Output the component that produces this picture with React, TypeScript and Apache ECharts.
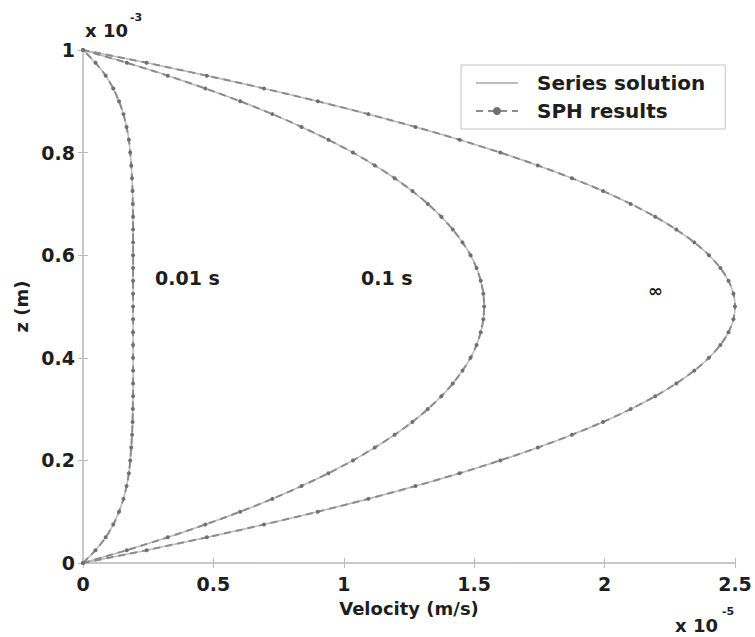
import React, { useEffect, useRef } from "react";
import * as echarts from "echarts";

// z positions (units of 1e-3 m)
const zPositions = [
  0, 0.025, 0.05, 0.075, 0.1, 0.125, 0.15, 0.175, 0.2, 0.225, 0.25, 0.275, 0.3, 0.325, 0.35, 0.375, 0.4,
  0.425, 0.45, 0.475, 0.5, 0.525, 0.55, 0.575, 0.6, 0.625, 0.65, 0.675, 0.7, 0.725, 0.75, 0.775, 0.8,
  0.825, 0.85, 0.875, 0.9, 0.925, 0.95, 0.975, 1,
];

// velocity (units of 1e-5 m/s) at t = 0.01 s
const velocity001s = [
  0, 0.048, 0.087, 0.116, 0.138, 0.155, 0.167, 0.176, 0.181, 0.185, 0.188, 0.19, 0.191, 0.192, 0.192,
  0.192, 0.192, 0.192, 0.192, 0.192, 0.192, 0.192, 0.192, 0.192, 0.192, 0.192, 0.192, 0.192,
  0.191, 0.19, 0.188, 0.185, 0.181, 0.176, 0.167, 0.155, 0.138, 0.116, 0.087, 0.048, 0,
];

// velocity at t = 0.1 s
const velocity01s = [
  0, 0.168, 0.325, 0.469, 0.603, 0.726, 0.838, 0.941, 1.035, 1.119, 1.195, 1.263, 1.322, 1.374, 1.418,
  1.455, 1.486, 1.509, 1.525, 1.535, 1.538, 1.535, 1.525, 1.509, 1.486, 1.455, 1.418, 1.374, 1.322,
  1.263, 1.195, 1.119, 1.035, 0.941, 0.838, 0.726, 0.603, 0.469, 0.325, 0.168, 0,
];

// steady-state velocity
const velocitySteady = [
  0, 0.244, 0.475, 0.694, 0.9, 1.094, 1.275, 1.444, 1.6, 1.744, 1.875, 1.994, 2.1, 2.194, 2.275, 2.344,
  2.4, 2.444, 2.475, 2.494, 2.5, 2.494, 2.475, 2.444, 2.4, 2.344, 2.275, 2.194, 2.1, 1.994, 1.875, 1.744,
  1.6, 1.444, 1.275, 1.094, 0.9, 0.694, 0.475, 0.244, 0,
];

const xTickLabels = ["0", "0.5", "1", "1.5", "2", "2.5"];
const yTickLabels = ["0", "0.2", "0.4", "0.6", "0.8", "1"];
const legendNames = ["Series solution", "SPH results"];
const curveLabelTexts = ["0.01 s", "0.1 s", "\u221e"];
const axisTitles = ["Velocity (m/s)", "z (m)"];

const FONT = "'DejaVu Sans', sans-serif";
const INK = "#1e1e1e";

export default function App() {
  const ref = useRef<HTMLDivElement>(null);

  useEffect(() => {
    if (!ref.current) return;
    const chart = echarts.init(ref.current, null, { renderer: "svg" });
    const toPairs = (v: number[]) => zPositions.map((z, i) => [v[i], z]);
    const profiles = [velocity001s, velocity01s, velocitySteady];

    const solution = profiles.map((v) => ({
      name: legendNames[0],
      type: "line",
      data: toPairs(v),
      symbol: "none",
      smooth: 0.3,
      lineStyle: { color: "#bdbdbd", width: 1.6 },
      itemStyle: { color: "#bdbdbd" },
      z: 2,
    }));
    const sph = profiles.map((v) => ({
      name: legendNames[1],
      type: "line",
      data: toPairs(v),
      symbol: "circle",
      symbolSize: 4,
      showSymbol: true,
      smooth: 0.3,
      lineStyle: { color: "#8c8c8c", width: 2, type: [7, 5] },
      itemStyle: { color: "#707070" },
      z: 3,
    }));

    const boldText = { fontFamily: FONT, fontWeight: "bold", fill: INK };

    chart.setOption({
      animation: false,
      backgroundColor: "#ffffff",
      grid: { left: 83, right: 20, top: 50, bottom: 74, containLabel: false },
      legend: {
        data: [
          { name: legendNames[0], itemStyle: { opacity: 0 } },
          { name: legendNames[1] },
        ],
        orient: "vertical",
        left: 461,
        top: 65,
        padding: [8, 20, 8, 14],
        itemGap: 8,
        itemWidth: 42,
        itemHeight: 10,
        borderColor: "#c4c4c4",
        borderWidth: 1,
        textStyle: {
          fontFamily: FONT,
          fontWeight: "bold",
          fontSize: 20,
          color: INK,
          padding: [0, 0, 0, 14],
        },
      },
      xAxis: [
        {
          type: "value",
          min: 0,
          max: 2.5,
          interval: 0.5,
          name: axisTitles[0],
          nameLocation: "middle",
          nameGap: 36,
          nameTextStyle: { fontFamily: FONT, fontWeight: "bold", fontSize: 18, color: INK },
          axisLine: { lineStyle: { color: "#c4c4c4", width: 1.5 } },
          axisTick: { inside: true, length: 5, lineStyle: { color: "#bbbbbb" } },
          axisLabel: {
            formatter: (v: number) => xTickLabels[Math.round(v / 0.5)],
            fontFamily: FONT,
            fontWeight: "bold",
            fontSize: 19,
            color: INK,
            margin: 11,
          },
          splitLine: { show: false },
        },
        {
          type: "value",
          position: "top",
          min: 0,
          max: 2.5,
          interval: 0.5,
          axisLine: { lineStyle: { color: "#c4c4c4", width: 1.5 } },
          axisTick: { inside: true, length: 5, lineStyle: { color: "#bbbbbb" } },
          axisLabel: { show: false },
          splitLine: { show: false },
        },
      ],
      yAxis: [
        {
          type: "value",
          min: 0,
          max: 1,
          interval: 0.2,
          name: axisTitles[1],
          nameLocation: "middle",
          nameGap: 46,
          nameRotate: 90,
          nameTextStyle: { fontFamily: FONT, fontWeight: "bold", fontSize: 18, color: INK },
          axisLine: { lineStyle: { color: "#c4c4c4", width: 1.5 } },
          axisTick: { inside: true, length: 5, lineStyle: { color: "#bbbbbb" } },
          axisLabel: {
            formatter: (v: number) => yTickLabels[Math.round(v / 0.2)],
            fontFamily: FONT,
            fontWeight: "bold",
            fontSize: 19,
            color: INK,
            margin: 8,
          },
          splitLine: { show: false },
        },
        {
          type: "value",
          position: "right",
          min: 0,
          max: 1,
          interval: 0.2,
          axisLine: { show: true, lineStyle: { color: "#c4c4c4", width: 1.5 } },
          axisTick: { inside: true, length: 5, lineStyle: { color: "#bbbbbb" } },
          axisLabel: { show: false },
          splitLine: { show: false },
        },
      ],
      graphic: [
        { type: "text", left: 85, top: 21, style: { ...boldText, text: "x 10", fontSize: 18 } },
        { type: "text", left: 130, top: 12, style: { ...boldText, text: "-3", fontSize: 11 } },
        { type: "text", left: 675, top: 616, style: { ...boldText, text: "x 10", fontSize: 18 } },
        { type: "text", left: 722, top: 606, style: { ...boldText, text: "-5", fontSize: 11 } },
        { type: "text", left: 155, top: 268, style: { ...boldText, text: curveLabelTexts[0], fontSize: 19 } },
        { type: "text", left: 361, top: 268, style: { ...boldText, text: curveLabelTexts[1], fontSize: 19 } },
        { type: "text", left: 648, top: 281, style: { ...boldText, text: curveLabelTexts[2], fontSize: 18 } },
      ],
      series: [...solution, ...sph],
    });
    return () => chart.dispose();
  }, []);

  return <div ref={ref} style={{ width: 755, height: 637, position: "absolute", left: 0, top: 0 }} />;
}
